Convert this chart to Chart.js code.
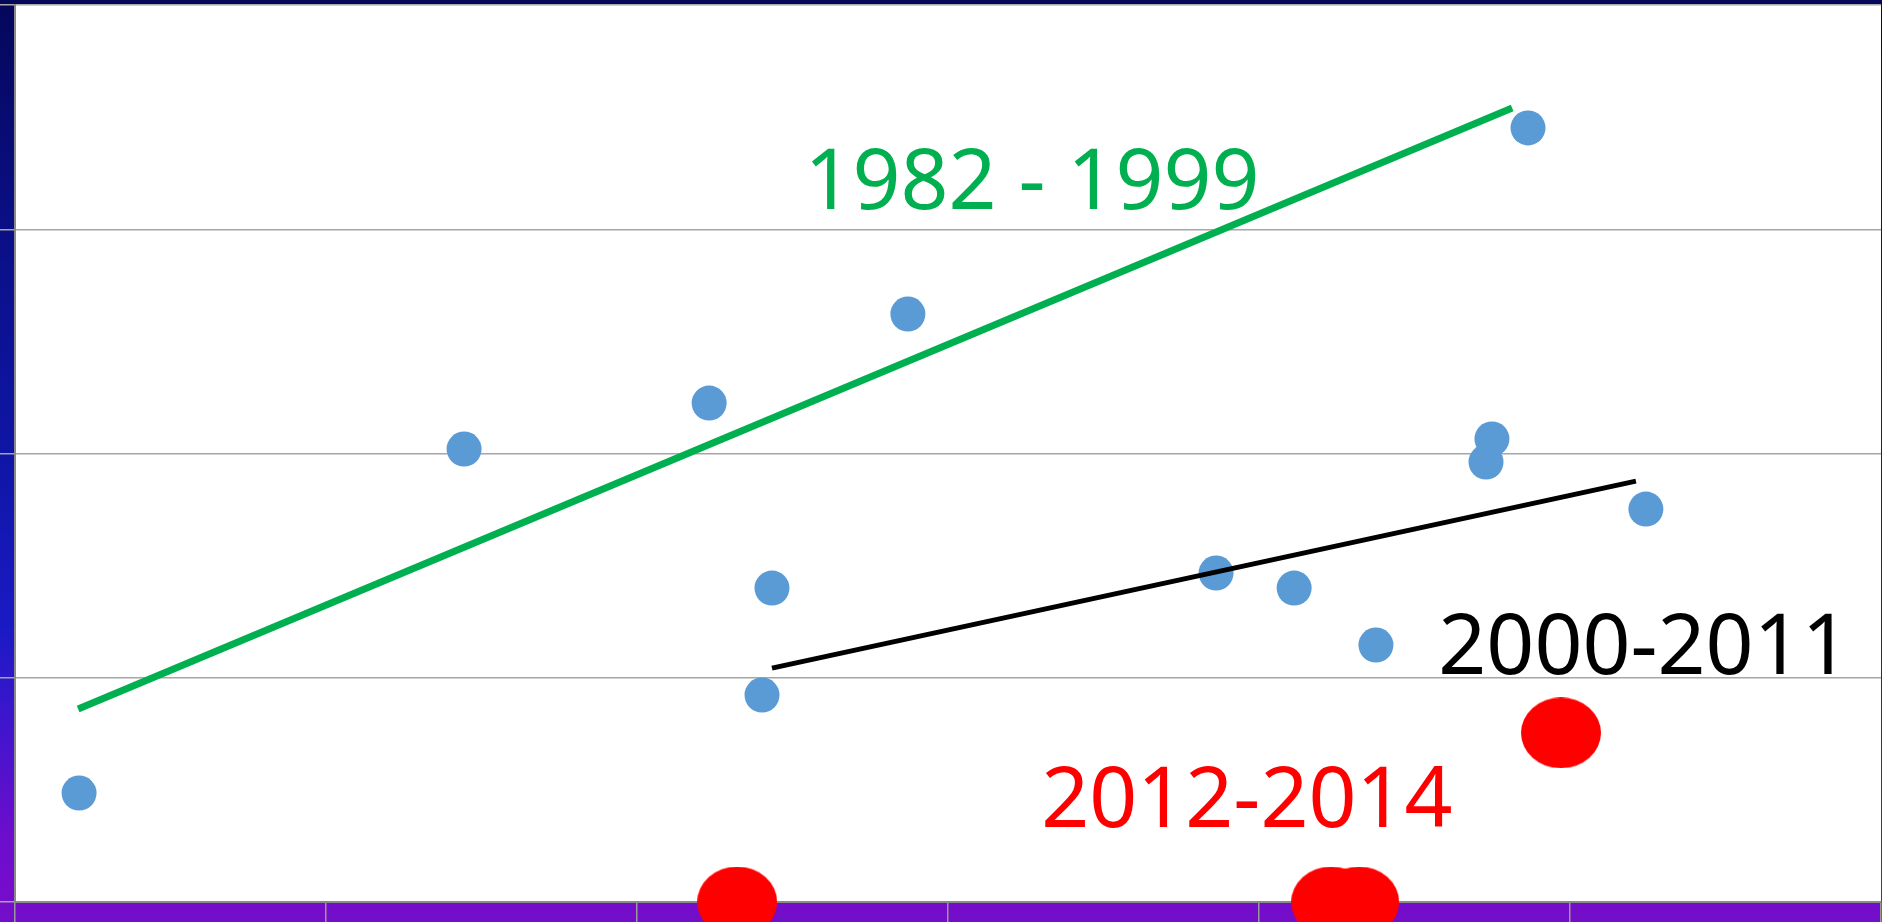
<!DOCTYPE html>
<html>
<head>
<meta charset="utf-8">
<script src="https://cdn.jsdelivr.net/npm/chart.js@4/dist/chart.umd.min.js"></script>
<style>
  html, body { margin: 0; padding: 0; }
  body {
    width: 1882px; height: 922px; overflow: hidden;
    background: linear-gradient(to bottom, #05075a 0%, #0a0f86 25%, #0f16a6 50%, #1a1ac4 68%, #3a16cc 77%, #6a0ecc 90%, #760ccc 97%, #720ec8 100%);
  }
  canvas { display: block; }
</style>
</head>
<body>
<canvas id="chart" width="1882" height="922"></canvas>
<script>
// 數據點 (藍色)
const blueX = [0.206, 1.444, 2.232, 2.871, 2.434, 2.402, 3.862, 4.113, 4.376, 4.749, 4.730, 4.865, 5.244];
const blueY = [0.486, 2.020, 2.225, 2.622, 1.400, 0.923, 1.467, 1.400, 1.146, 2.065, 1.962, 3.452, 1.752];

// 數據點 (紅色, 2012-2014)
const redX = [2.322, 4.232, 4.322, 4.971];
const redY = [0, 0, 0, 0.754];

// 趨勢線
const greenLineX = [0.203, 4.814];
const greenLineY = [0.861, 3.541];
const blackLineX = [2.434, 5.212];
const blackLineY = [1.043, 1.877];

// 文字標籤
const labelText = ['1982 - 1999', '2000-2011', '2012-2014'];
const labelX = [3.270, 5.238, 3.961];
const labelY = [3.090, 1.017, 0.334];
const labelColor = ['#00b050', '#000000', '#ff0000'];

// 軸範圍
const xTicks = [0, 1, 2, 3, 4, 5, 6];
const yTicks = [0, 1, 2, 3, 4];

function toPoints(xs, ys) {
    return xs.map((x, i) => ({ x: x, y: ys[i] }));
}

// 紅色橢圓點
function makeEllipse(w, h, color) {
    const c = document.createElement('canvas');
    c.width = w;
    c.height = h;
    const ctx = c.getContext('2d');
    ctx.fillStyle = color;
    ctx.beginPath();
    ctx.ellipse(w / 2, h / 2, w / 2, h / 2, 0, 0, Math.PI * 2);
    ctx.fill();
    return c;
}
const redEllipse = makeEllipse(80, 71, '#ff0000');

const whiteArea = {
    id: 'whiteArea',
    beforeDraw(chart) {
        const a = chart.chartArea;
        const ctx = chart.ctx;
        ctx.save();
        ctx.fillStyle = '#ffffff';
        ctx.fillRect(a.left, a.top, a.right - a.left, a.bottom - a.top);
        ctx.restore();
    }
};

const labelsPlugin = {
    id: 'periodLabels',
    afterDatasetsDraw(chart) {
        const ctx = chart.ctx;
        const xs = chart.scales.x;
        const ys = chart.scales.y;
        ctx.save();
        ctx.font = '84px "Noto Sans"';
        ctx.textAlign = 'center';
        ctx.textBaseline = 'alphabetic';
        labelText.forEach((t, i) => {
            ctx.fillStyle = labelColor[i];
            ctx.fillText(t, xs.getPixelForValue(labelX[i]), ys.getPixelForValue(labelY[i]));
        });
        ctx.restore();
    }
};

new Chart(document.getElementById('chart'), {
    type: 'scatter',
    data: {
        datasets: [
            {
                data: toPoints(greenLineX, greenLineY),
                showLine: true,
                borderColor: '#00b050',
                borderWidth: 7,
                pointRadius: 0,
                clip: false
            },
            {
                data: toPoints(blackLineX, blackLineY),
                showLine: true,
                borderColor: '#000000',
                borderWidth: 5,
                pointRadius: 0,
                clip: false
            },
            {
                data: toPoints(redX, redY),
                pointStyle: redEllipse,
                pointRadius: 40,
                backgroundColor: '#ff0000',
                clip: false
            },
            {
                data: toPoints(blueX, blueY),
                pointRadius: 17.5,
                backgroundColor: '#5b9bd5',
                borderWidth: 0,
                clip: false
            }
        ]
    },
    options: {
        responsive: false,
        animation: false,
        layout: { autoPadding: false, padding: { top: 5, right: 1, left: 0, bottom: 0 } },
        plugins: {
            legend: { display: false },
            tooltip: { enabled: false }
        },
        scales: {
            x: {
                type: 'linear',
                min: xTicks[0],
                max: xTicks[xTicks.length - 1],
                afterBuildTicks: s => { s.ticks = xTicks.map(v => ({ value: v })); },
                ticks: { display: false },
                grid: {
                    drawOnChartArea: false,
                    drawTicks: true,
                    tickLength: 20,
                    color: '#9a9a9a',
                    lineWidth: 1.5
                },
                border: { color: '#8a8a8a', width: 2 }
            },
            y: {
                type: 'linear',
                min: yTicks[0],
                max: yTicks[yTicks.length - 1],
                afterBuildTicks: s => { s.ticks = yTicks.map(v => ({ value: v })); },
                ticks: { display: false },
                grid: {
                    drawTicks: true,
                    tickLength: 15,
                    color: '#a6a6a6',
                    lineWidth: 1.5
                },
                border: { color: '#8a8a8a', width: 2 }
            }
        }
    },
    plugins: [whiteArea, labelsPlugin]
});
</script>
</body>
</html>
